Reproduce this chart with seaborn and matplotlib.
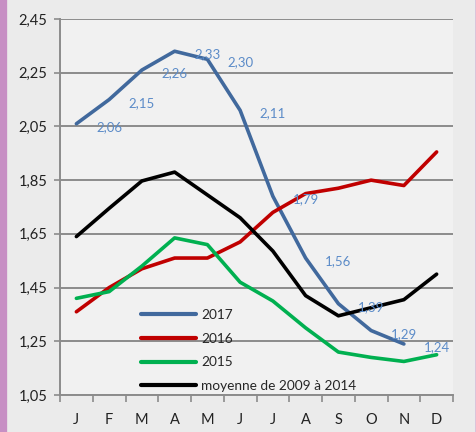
import matplotlib
matplotlib.use("Agg")
import matplotlib.pyplot as plt
import matplotlib.patches as mpatches
from matplotlib.ticker import FixedLocator, FuncFormatter
import pandas as pd
import seaborn as sns

months = ["J", "F", "M", "A", "M", "J", "J", "A", "S", "O", "N", "D"]

prix_2017 = [2.06, 2.15, 2.26, 2.33, 2.30, 2.11, 1.79, 1.56, 1.39, 1.29, 1.24]
labels_2017 = ["2,06", "2,15", "2,26", "2,33", "2,30", "2,11", "1,79", "1,56", "1,39", "1,29", "1,24"]
prix_2016 = [1.36, 1.45, 1.52, 1.56, 1.56, 1.62, 1.73, 1.80, 1.82, 1.85, 1.83, 1.955]
prix_2015 = [1.41, 1.435, 1.53, 1.635, 1.61, 1.47, 1.40, 1.30, 1.21, 1.19, 1.175, 1.20]
prix_moy = [1.64, 1.745, 1.847, 1.88, 1.795, 1.71, 1.586, 1.42, 1.345, 1.375, 1.405, 1.50]

series = {
    "2017": prix_2017,
    "2016": prix_2016,
    "2015": prix_2015,
    "moyenne de 2009 à 2014": prix_moy,
}
colors = ["#41699d", "#c00000", "#00b050", "#000000"]

rows = []
for name, vals in series.items():
    for i, v in enumerate(vals):
        rows.append({"idx": i, "prix": v, "serie": name})
df = pd.DataFrame(rows)

sns.set_style("white")
plt.rcParams["font.family"] = ["Lato", "DejaVu Sans"]

fig = plt.figure(figsize=(4.77, 4.32), dpi=100)
fig.patch.set_facecolor("#c78fc4")

# background panel
panel = mpatches.FancyBboxPatch((0.015, -0.05), 0.982, 1.10,
                                boxstyle="round,pad=0,rounding_size=0.05",
                                transform=fig.transFigure, facecolor="#ebebeb",
                                edgecolor="none", zorder=-5)
fig.patches.append(panel)

ax = fig.add_axes([0.1258, 0.0856, 0.8239, 0.8704])
ax.set_zorder(2)
ax.set_facecolor("#f1f1f1")

sns.lineplot(data=df, x="idx", y="prix", hue="serie", palette=colors,
             linewidth=2.6, ax=ax, legend=True, zorder=3)

for i, (v, lab) in enumerate(zip(prix_2017, labels_2017)):
    ax.annotate(lab, (i + 1, v - 0.012), ha="center", va="center",
                color="#5b8bc8", fontsize=9.5, zorder=4)

ax.set_xlim(-0.5, 11.5)
ax.set_ylim(1.05, 2.45)
yt = [1.05, 1.25, 1.45, 1.65, 1.85, 2.05, 2.25, 2.45]
ax.set_yticks(yt)
ax.yaxis.set_major_formatter(FuncFormatter(lambda v, p: f"{v:.2f}".replace(".", ",")))
ax.set_xticks(range(12))
ax.set_xticklabels(months)
ax.xaxis.set_minor_locator(FixedLocator([i - 0.5 for i in range(13)]))
ax.tick_params(axis="x", which="major", length=0, pad=13, labelsize=10.5, colors="#222222")
ax.tick_params(axis="x", which="minor", length=5, width=1.2, color="#8c8c8c", bottom=True)
ax.tick_params(axis="y", length=4, width=1.2, color="#8c8c8c", labelsize=10.5,
               labelcolor="#222222", pad=5, left=True)
ax.grid(axis="y", color="#8c8c8c", linewidth=1.4)
ax.set_axisbelow(True)
for s in ["top", "right"]:
    ax.spines[s].set_visible(False)
for s in ["left", "bottom"]:
    ax.spines[s].set_color("#8c8c8c")
    ax.spines[s].set_linewidth(1.4)
ax.set_xlabel("")
ax.set_ylabel("")

ax.legend(loc="upper left", bbox_to_anchor=(129 / 477, 1 - 297 / 432),
          bbox_transform=fig.transFigure, frameon=False, fontsize=9.8,
          handlelength=4.0, labelspacing=0.85, handletextpad=0.4, title=None)
for h in ax.get_legend().get_lines():
    h.set_linewidth(3)

fig.savefig("out.png", dpi=100, facecolor=fig.get_facecolor())
